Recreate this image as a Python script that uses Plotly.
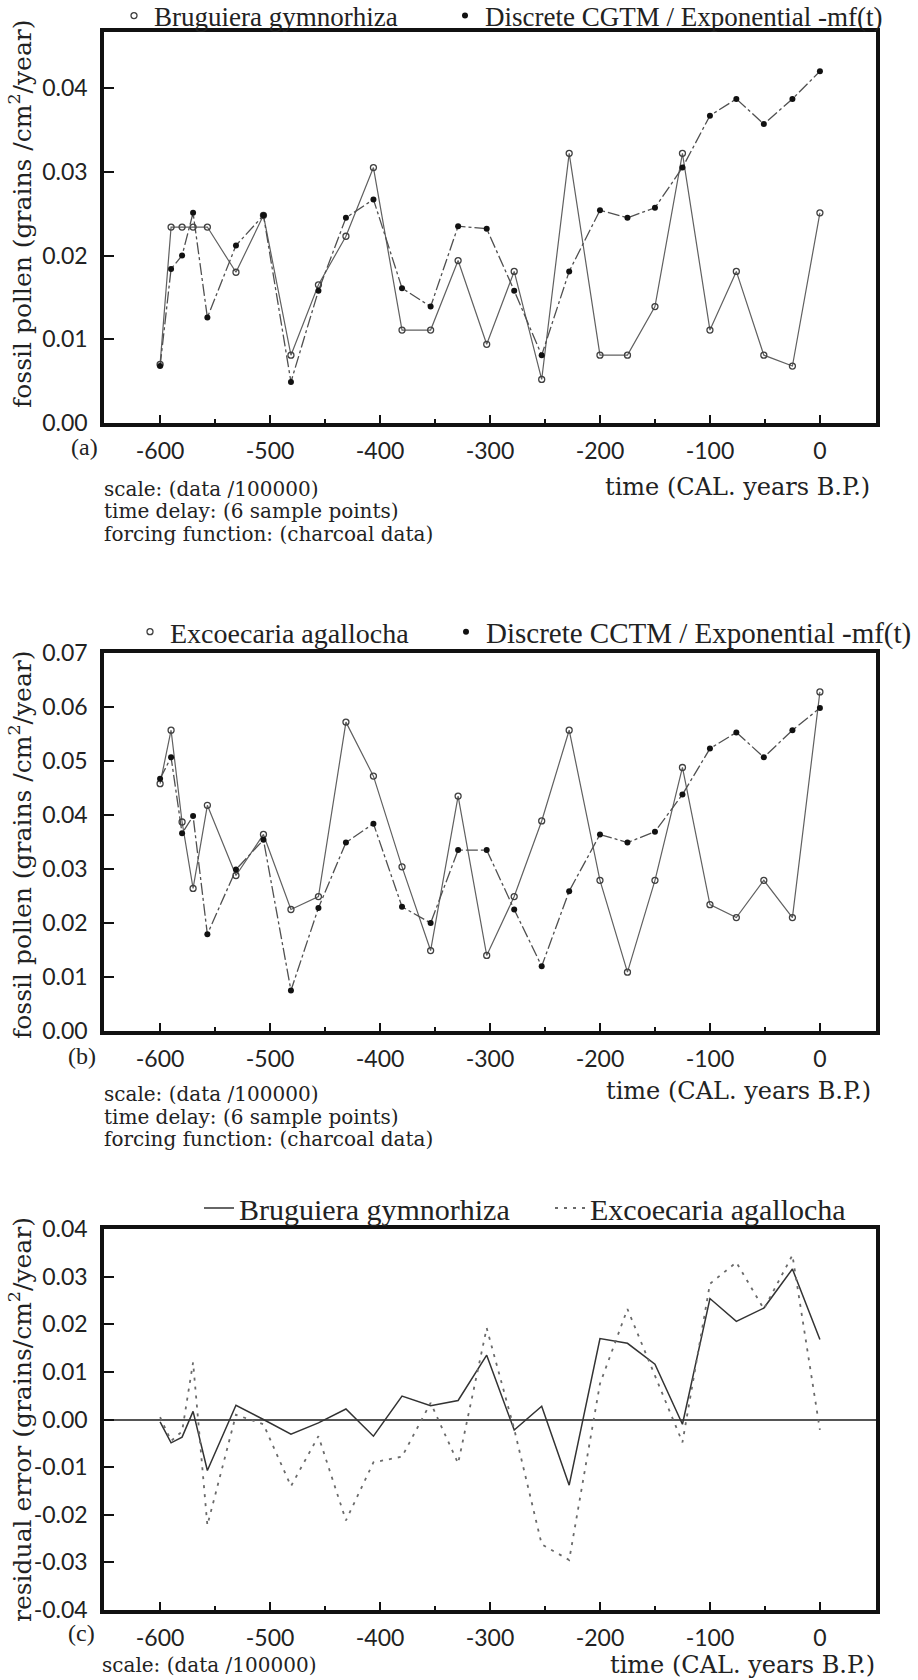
import plotly.graph_objects as go

# Sample times (CAL. years B.P.)
time_bp = [-600, -590, -580, -570, -557, -531, -506, -481, -456, -431, -406, -380, -354,
           -329, -303, -278, -253, -228, -200, -175, -150, -125, -100, -76, -51, -25, 0]

# (a) Bruguiera gymnorhiza: observed fossil pollen and discrete CGTM model
bruguiera_obs = [0.0070, 0.0234, 0.0234, 0.0234, 0.0234, 0.0180, 0.0248, 0.0081, 0.0165,
                 0.0223, 0.0305, 0.0111, 0.0111, 0.0194, 0.0094, 0.0181, 0.0052, 0.0322,
                 0.0081, 0.0081, 0.0139, 0.0322, 0.0111, 0.0181, 0.0081, 0.0068, 0.0251]
bruguiera_model = [0.0068, 0.0184, 0.0200, 0.0251, 0.0126, 0.0212, 0.0248, 0.0049, 0.0158,
                   0.0245, 0.0267, 0.0161, 0.0139, 0.0235, 0.0232, 0.0158, 0.0081, 0.0181,
                   0.0254, 0.0245, 0.0257, 0.0305, 0.0367, 0.0387, 0.0357, 0.0387, 0.0420]

# (b) Excoecaria agallocha: observed fossil pollen and discrete CCTM model
excoecaria_obs = [0.0458, 0.0557, 0.0387, 0.0264, 0.0418, 0.0288, 0.0364, 0.0225, 0.0249,
                  0.0572, 0.0472, 0.0304, 0.0149, 0.0435, 0.0140, 0.0249, 0.0389, 0.0557,
                  0.0279, 0.0109, 0.0279, 0.0488, 0.0234, 0.0210, 0.0279, 0.0210, 0.0628]
excoecaria_model = [0.0467, 0.0507, 0.0366, 0.0398, 0.0179, 0.0299, 0.0354, 0.0075, 0.0228,
                    0.0349, 0.0384, 0.0230, 0.0200, 0.0335, 0.0335, 0.0225, 0.0120, 0.0259,
                    0.0364, 0.0349, 0.0369, 0.0438, 0.0523, 0.0553, 0.0507, 0.0557, 0.0598]

# (c) residual errors
resid_bruguiera = [-0.0005, -0.0049, -0.0037, 0.0017, -0.0107, 0.0030, 0.0000, -0.0031, -0.0007,
                   0.0022, -0.0035, 0.0049, 0.0029, 0.0040, 0.0135, -0.0022, 0.0028, -0.0138,
                   0.0170, 0.0160, 0.0116, -0.0010, 0.0254, 0.0206, 0.0234, 0.0316, 0.0168]
resid_excoecaria = [0.0005, -0.0045, -0.0025, 0.0120, -0.0222, 0.0010, -0.0010, -0.0140, -0.0035,
                    -0.0212, -0.0090, -0.0078, 0.0035, -0.0092, 0.0192, -0.0020, -0.0262, -0.0295,
                    0.0075, 0.0232, 0.0092, -0.0048, 0.0285, 0.0330, 0.0232, 0.0345, -0.0022]

# Tick positions and labels
x_tickvals = [-600, -500, -400, -300, -200, -100, 0]
x_ticktext = ["-600", "-500", "-400", "-300", "-200", "-100", "0"]
x_minorvals = [-550, -450, -350, -250, -150, -50]
ya_tickvals = [0.0, 0.01, 0.02, 0.03, 0.04]
ya_ticktext = ["0.00", "0.01", "0.02", "0.03", "0.04"]
yb_tickvals = [0.0, 0.01, 0.02, 0.03, 0.04, 0.05, 0.06, 0.07]
yb_ticktext = ["0.00", "0.01", "0.02", "0.03", "0.04", "0.05", "0.06", "0.07"]
yc_tickvals = [-0.04, -0.03, -0.02, -0.01, 0.0, 0.01, 0.02, 0.03, 0.04]
yc_ticktext = ["-0.04", "-0.03", "-0.02", "-0.01", "0.00", "0.01", "0.02", "0.03", "0.04"]

W, H = 918, 1680


def fx(p):
    return p / W


def fy(p):
    return 1 - p / H


SERIF = "DejaVu Serif"
LEG = "Liberation Serif"
SANS = "Lato"
INK = "#111111"

fig = go.Figure()


def add_pair(xa, ya, obs, model, leg_obs, leg_model, obs_name, model_name):
    fig.add_trace(go.Scatter(x=time_bp, y=obs, mode="lines", xaxis=xa, yaxis=ya,
                             line=dict(color="#606060", width=1.2), showlegend=False,
                             hoverinfo="skip"))
    fig.add_trace(go.Scatter(x=time_bp, y=model, mode="lines", xaxis=xa, yaxis=ya,
                             line=dict(color="#505050", width=1.3, dash="12px,3px,3px,3px"),
                             showlegend=False, hoverinfo="skip"))
    fig.add_trace(go.Scatter(x=time_bp, y=obs, mode="markers", xaxis=xa, yaxis=ya,
                             name=obs_name, legend=leg_obs,
                             marker=dict(symbol="circle-open", size=6, color="#404040",
                                         line=dict(width=1.3, color="#404040"))))
    fig.add_trace(go.Scatter(x=time_bp, y=model, mode="markers", xaxis=xa, yaxis=ya,
                             name=model_name, legend=leg_model,
                             marker=dict(symbol="circle", size=6, color=INK)))


add_pair("x", "y", bruguiera_obs, bruguiera_model, "legend", "legend2",
         "Bruguiera gymnorhiza", "Discrete CGTM / Exponential -mf(t)")
add_pair("x2", "y2", excoecaria_obs, excoecaria_model, "legend3", "legend4",
         "Excoecaria agallocha", "Discrete CCTM / Exponential -mf(t)")

fig.add_trace(go.Scatter(x=time_bp, y=resid_bruguiera, mode="lines", xaxis="x3", yaxis="y3",
                         name="Bruguiera gymnorhiza", legend="legend5",
                         line=dict(color="#333333", width=1.5)))
fig.add_trace(go.Scatter(x=time_bp, y=resid_excoecaria, mode="lines", xaxis="x3", yaxis="y3",
                         name="Excoecaria agallocha", legend="legend6",
                         line=dict(color="#6a6a6a", width=1.8, dash="3px,6px")))

x_dom = [fx(104), fx(876)]
common_x = dict(range=[-651, 51], tickmode="array", tickvals=x_tickvals, ticktext=x_ticktext,
                ticks="inside", ticklen=8, tickwidth=2, tickcolor=INK,
                minor=dict(tickmode="array", tickvals=x_minorvals,
                           ticks="inside", ticklen=4, tickwidth=2, tickcolor=INK),
                showline=True, linewidth=3.5, linecolor=INK, mirror=True,
                showgrid=False, zeroline=False, ticklabelstandoff=5,
                tickfont=dict(family=SANS, size=23, color="#222"), domain=x_dom)
common_y = dict(tickmode="array", ticks="inside", ticklen=10, tickwidth=2, tickcolor=INK,
                showline=True, linewidth=3.5, linecolor=INK, mirror=True,
                showgrid=False, ticklabelstandoff=8,
                tickfont=dict(family=SANS, size=23, color="#222"))


def leg(x, y, size):
    return dict(orientation="h", x=fx(x), y=fy(y), xanchor="left", yanchor="middle",
                bgcolor="rgba(0,0,0,0)", font=dict(family=LEG, size=size, color="#222"))


fig.update_layout(
    width=W, height=H, margin=dict(l=0, r=0, t=0, b=0, autoexpand=False),
    paper_bgcolor="white", plot_bgcolor="white",
    xaxis=dict(common_x, anchor="y"),
    xaxis2=dict(common_x, anchor="y2"),
    xaxis3=dict(common_x, anchor="y3"),
    yaxis=dict(common_y, anchor="x", range=[0, 0.04669], tickvals=ya_tickvals,
               ticktext=ya_ticktext, zeroline=False, domain=[fy(423), fy(32)]),
    yaxis2=dict(common_y, anchor="x2", range=[0, 0.07], tickvals=yb_tickvals,
                ticktext=yb_ticktext, zeroline=False, domain=[fy(1031), fy(653)]),
    yaxis3=dict(common_y, anchor="x3", range=[-0.04, 0.04], tickvals=yc_tickvals,
                ticktext=yc_ticktext, zeroline=True, zerolinecolor="#555555",
                zerolinewidth=2, domain=[fy(1610), fy(1229)]),
    legend=leg(114, 16, 27),
    legend2=leg(445, 16, 27),
    legend3=leg(130, 632, 28),
    legend4=leg(446, 632, 29),
    legend5=leg(199, 1208, 30),
    legend6=leg(550, 1208, 30),
)

ann = []


def text(x, y, s, size=20, family=SERIF, xanchor="left", angle=0):
    ann.append(dict(x=fx(x), y=fy(y), xref="paper", yref="paper", text=s, showarrow=False,
                    xanchor=xanchor, yanchor="middle", textangle=angle,
                    font=dict(family=family, size=size, color="#222")))


ytitle = "fossil pollen (grains /cm<sup>2</sup>/year)"
text(20, 214, ytitle, size=25, xanchor="center", angle=-90)
text(20, 845, ytitle, size=25, xanchor="center", angle=-90)
text(20, 1420, "residual error (grains/cm<sup>2</sup>/year)", size=25, xanchor="center", angle=-90)

text(84, 447, "(a)", size=24, family=LEG, xanchor="center")
text(82, 1056, "(b)", size=24, family=LEG, xanchor="center")
text(81, 1633, "(c)", size=24, family=LEG, xanchor="center")

text(872, 487, "time (CAL. years B.P.)", size=24, xanchor="right")
text(873, 1091, "time (CAL. years B.P.)", size=24, xanchor="right")
text(877, 1665, "time (CAL. years B.P.)", size=24, xanchor="right")

for y0, step in ((489, 22.5), (1094, 22.5)):
    text(102, y0, "scale: (data /100000)")
    text(102, y0 + step, "time delay: (6 sample points)")
    text(102, y0 + 2 * step, "forcing function: (charcoal data)")
text(100, 1665, "scale: (data /100000)")

fig.update_layout(annotations=ann)
fig.write_html("out.html")
